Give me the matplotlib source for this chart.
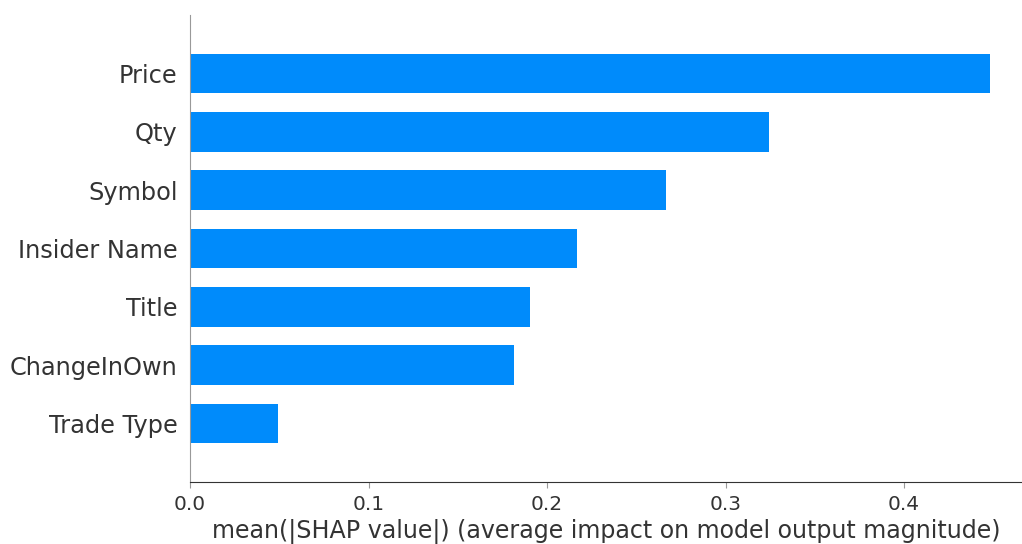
import matplotlib
matplotlib.use('Agg')
import matplotlib.pyplot as plt
import numpy as np

features = ['Price', 'Qty', 'Symbol', 'Insider Name', 'Title', 'ChangeInOwn', 'Trade Type']
shap_mean = [0.4482, 0.3243, 0.2665, 0.2166, 0.1902, 0.1812, 0.0494]
xticks = [0.0, 0.1, 0.2, 0.3, 0.4]

BLUE = '#008bfb'
TEXT = '#333333'

fig = plt.figure(figsize=(10.22, 5.44), dpi=100)
ax = fig.add_axes([190 / 1022, 1 - 482 / 544, 1 - 190 / 1022, (482 - 15) / 544])

ypos = np.arange(len(features))[::-1]
ax.barh(ypos, shap_mean, height=0.68, color=BLUE, align='center')

ax.set_yticks(ypos)
ax.set_yticklabels(features, fontsize=17.3, color=TEXT)
ax.set_ylim(-1, len(features))
ax.set_xlim(0, 0.466)
ax.set_xticks(xticks)
ax.set_xticklabels([f'{t:.1f}' for t in xticks], fontsize=14.5, color=TEXT)
ax.set_xlabel('mean(|SHAP value|) (average impact on model output magnitude)',
              fontsize=17.1, color=TEXT, labelpad=4)

for s in ['top', 'right']:
    ax.spines[s].set_visible(False)
ax.spines['left'].set_color('#999999')
ax.spines['bottom'].set_color('#333333')
ax.tick_params(axis='y', length=0, pad=9)
ax.tick_params(axis='x', color='#999999', length=4, pad=5)

fig.savefig('out.png', dpi=100)
